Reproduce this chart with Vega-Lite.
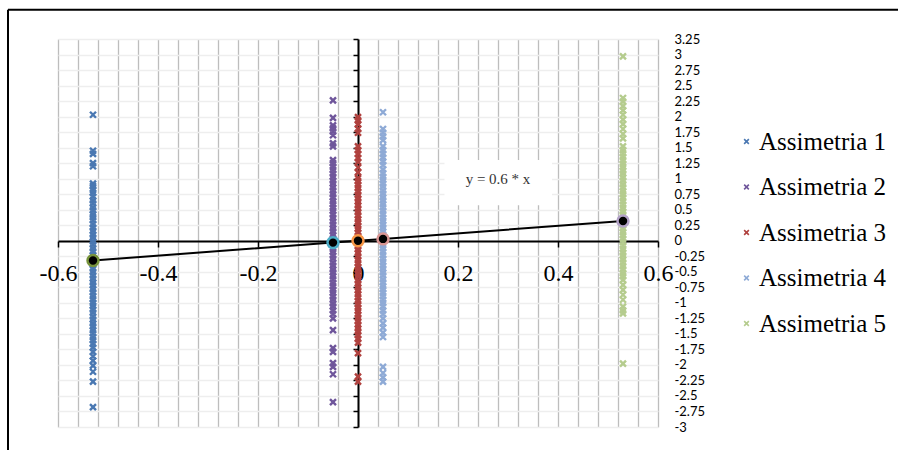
{
"$schema": "https://vega.github.io/schema/vega-lite/v6.json",
"autosize": {"type": "none"},
"width": 600,
"height": 388,
"padding": {"left": 58, "top": 39, "right": 240, "bottom": 23},
"background": "white",
"config": {"view": {"stroke": null}, "axis": {"labelOverlap": false, "labelFlush": false, "labelBound": false}},
"datasets": {
"pts": [
{"serie":"Assimetria 1","x":-0.53,"y":2.03},{"serie":"Assimetria 1","x":-0.53,"y":1.45},{"serie":"Assimetria 1","x":-0.53,"y":1.4},{"serie":"Assimetria 1","x":-0.53,"y":1.25},{"serie":"Assimetria 1","x":-0.53,"y":1.2},{"serie":"Assimetria 1","x":-0.53,"y":0.92},{"serie":"Assimetria 1","x":-0.53,"y":0.88},{"serie":"Assimetria 1","x":-0.53,"y":0.82},{"serie":"Assimetria 1","x":-0.53,"y":0.77},{"serie":"Assimetria 1","x":-0.53,"y":0.71},{"serie":"Assimetria 1","x":-0.53,"y":0.65},{"serie":"Assimetria 1","x":-0.53,"y":0.6},{"serie":"Assimetria 1","x":-0.53,"y":0.54},{"serie":"Assimetria 1","x":-0.53,"y":0.49},{"serie":"Assimetria 1","x":-0.53,"y":0.43},{"serie":"Assimetria 1","x":-0.53,"y":0.38},{"serie":"Assimetria 1","x":-0.53,"y":0.33},{"serie":"Assimetria 1","x":-0.53,"y":0.27},{"serie":"Assimetria 1","x":-0.53,"y":0.21},{"serie":"Assimetria 1","x":-0.53,"y":0.16},{"serie":"Assimetria 1","x":-0.53,"y":0.1},{"serie":"Assimetria 1","x":-0.53,"y":0.05},{"serie":"Assimetria 1","x":-0.53,"y":-0.01},{"serie":"Assimetria 1","x":-0.53,"y":-0.06},{"serie":"Assimetria 1","x":-0.53,"y":-0.12},{"serie":"Assimetria 1","x":-0.53,"y":-0.17},{"serie":"Assimetria 1","x":-0.53,"y":-0.23},{"serie":"Assimetria 1","x":-0.53,"y":-0.28},{"serie":"Assimetria 1","x":-0.53,"y":-0.34},{"serie":"Assimetria 1","x":-0.53,"y":-0.39},{"serie":"Assimetria 1","x":-0.53,"y":-0.45},{"serie":"Assimetria 1","x":-0.53,"y":-0.5},{"serie":"Assimetria 1","x":-0.53,"y":-0.56},{"serie":"Assimetria 1","x":-0.53,"y":-0.61},{"serie":"Assimetria 1","x":-0.53,"y":-0.67},{"serie":"Assimetria 1","x":-0.53,"y":-0.72},{"serie":"Assimetria 1","x":-0.53,"y":-0.78},{"serie":"Assimetria 1","x":-0.53,"y":-0.83},{"serie":"Assimetria 1","x":-0.53,"y":-0.89},{"serie":"Assimetria 1","x":-0.53,"y":-0.94},{"serie":"Assimetria 1","x":-0.53,"y":-1.0},{"serie":"Assimetria 1","x":-0.53,"y":-1.05},{"serie":"Assimetria 1","x":-0.53,"y":-1.11},{"serie":"Assimetria 1","x":-0.53,"y":-1.16},{"serie":"Assimetria 1","x":-0.53,"y":-1.22},{"serie":"Assimetria 1","x":-0.53,"y":-1.27},{"serie":"Assimetria 1","x":-0.53,"y":-1.33},{"serie":"Assimetria 1","x":-0.53,"y":-1.38},{"serie":"Assimetria 1","x":-0.53,"y":-1.44},{"serie":"Assimetria 1","x":-0.53,"y":-1.49},{"serie":"Assimetria 1","x":-0.53,"y":-1.55},{"serie":"Assimetria 1","x":-0.53,"y":-1.6},{"serie":"Assimetria 1","x":-0.53,"y":-1.66},{"serie":"Assimetria 1","x":-0.53,"y":-1.72},{"serie":"Assimetria 1","x":-0.53,"y":-1.79},{"serie":"Assimetria 1","x":-0.53,"y":-1.86},{"serie":"Assimetria 1","x":-0.53,"y":-1.93},{"serie":"Assimetria 1","x":-0.53,"y":-2.01},{"serie":"Assimetria 1","x":-0.53,"y":-2.11},{"serie":"Assimetria 1","x":-0.53,"y":-2.27},{"serie":"Assimetria 1","x":-0.53,"y":-2.68},
{"serie":"Assimetria 2","x":-0.05,"y":2.26},{"serie":"Assimetria 2","x":-0.05,"y":1.98},{"serie":"Assimetria 2","x":-0.05,"y":1.86},{"serie":"Assimetria 2","x":-0.05,"y":1.81},{"serie":"Assimetria 2","x":-0.05,"y":1.76},{"serie":"Assimetria 2","x":-0.05,"y":1.7},{"serie":"Assimetria 2","x":-0.05,"y":1.57},{"serie":"Assimetria 2","x":-0.05,"y":1.52},{"serie":"Assimetria 2","x":-0.05,"y":1.3},{"serie":"Assimetria 2","x":-0.05,"y":1.25},{"serie":"Assimetria 2","x":-0.05,"y":1.19},{"serie":"Assimetria 2","x":-0.05,"y":1.14},{"serie":"Assimetria 2","x":-0.05,"y":1.08},{"serie":"Assimetria 2","x":-0.05,"y":1.03},{"serie":"Assimetria 2","x":-0.05,"y":0.97},{"serie":"Assimetria 2","x":-0.05,"y":0.92},{"serie":"Assimetria 2","x":-0.05,"y":0.86},{"serie":"Assimetria 2","x":-0.05,"y":0.81},{"serie":"Assimetria 2","x":-0.05,"y":0.75},{"serie":"Assimetria 2","x":-0.05,"y":0.7},{"serie":"Assimetria 2","x":-0.05,"y":0.64},{"serie":"Assimetria 2","x":-0.05,"y":0.59},{"serie":"Assimetria 2","x":-0.05,"y":0.53},{"serie":"Assimetria 2","x":-0.05,"y":0.48},{"serie":"Assimetria 2","x":-0.05,"y":0.42},{"serie":"Assimetria 2","x":-0.05,"y":0.37},{"serie":"Assimetria 2","x":-0.05,"y":0.31},{"serie":"Assimetria 2","x":-0.05,"y":0.26},{"serie":"Assimetria 2","x":-0.05,"y":0.2},{"serie":"Assimetria 2","x":-0.05,"y":0.15},{"serie":"Assimetria 2","x":-0.05,"y":0.09},{"serie":"Assimetria 2","x":-0.05,"y":0.04},{"serie":"Assimetria 2","x":-0.05,"y":-0.02},{"serie":"Assimetria 2","x":-0.05,"y":-0.07},{"serie":"Assimetria 2","x":-0.05,"y":-0.13},{"serie":"Assimetria 2","x":-0.05,"y":-0.18},{"serie":"Assimetria 2","x":-0.05,"y":-0.24},{"serie":"Assimetria 2","x":-0.05,"y":-0.29},{"serie":"Assimetria 2","x":-0.05,"y":-0.35},{"serie":"Assimetria 2","x":-0.05,"y":-0.4},{"serie":"Assimetria 2","x":-0.05,"y":-0.46},{"serie":"Assimetria 2","x":-0.05,"y":-0.51},{"serie":"Assimetria 2","x":-0.05,"y":-0.57},{"serie":"Assimetria 2","x":-0.05,"y":-0.62},{"serie":"Assimetria 2","x":-0.05,"y":-0.68},{"serie":"Assimetria 2","x":-0.05,"y":-0.73},{"serie":"Assimetria 2","x":-0.05,"y":-0.79},{"serie":"Assimetria 2","x":-0.05,"y":-0.84},{"serie":"Assimetria 2","x":-0.05,"y":-0.9},{"serie":"Assimetria 2","x":-0.05,"y":-0.95},{"serie":"Assimetria 2","x":-0.05,"y":-1.01},{"serie":"Assimetria 2","x":-0.05,"y":-1.06},{"serie":"Assimetria 2","x":-0.05,"y":-1.12},{"serie":"Assimetria 2","x":-0.05,"y":-1.18},{"serie":"Assimetria 2","x":-0.05,"y":-1.25},{"serie":"Assimetria 2","x":-0.05,"y":-1.44},{"serie":"Assimetria 2","x":-0.05,"y":-1.73},{"serie":"Assimetria 2","x":-0.05,"y":-1.79},{"serie":"Assimetria 2","x":-0.05,"y":-1.97},{"serie":"Assimetria 2","x":-0.05,"y":-2.03},{"serie":"Assimetria 2","x":-0.05,"y":-2.15},{"serie":"Assimetria 2","x":-0.05,"y":-2.6},
{"serie":"Assimetria 3","x":0,"y":1.99},{"serie":"Assimetria 3","x":0,"y":1.94},{"serie":"Assimetria 3","x":0,"y":1.88},{"serie":"Assimetria 3","x":0,"y":1.8},{"serie":"Assimetria 3","x":0,"y":1.74},{"serie":"Assimetria 3","x":0,"y":1.52},{"serie":"Assimetria 3","x":0,"y":1.46},{"serie":"Assimetria 3","x":0,"y":1.4},{"serie":"Assimetria 3","x":0,"y":1.33},{"serie":"Assimetria 3","x":0,"y":1.27},{"serie":"Assimetria 3","x":0,"y":1.18},{"serie":"Assimetria 3","x":0,"y":1.1},{"serie":"Assimetria 3","x":0,"y":1.01},{"serie":"Assimetria 3","x":0,"y":0.96},{"serie":"Assimetria 3","x":0,"y":0.9},{"serie":"Assimetria 3","x":0,"y":0.85},{"serie":"Assimetria 3","x":0,"y":0.79},{"serie":"Assimetria 3","x":0,"y":0.74},{"serie":"Assimetria 3","x":0,"y":0.68},{"serie":"Assimetria 3","x":0,"y":0.63},{"serie":"Assimetria 3","x":0,"y":0.57},{"serie":"Assimetria 3","x":0,"y":0.52},{"serie":"Assimetria 3","x":0,"y":0.46},{"serie":"Assimetria 3","x":0,"y":0.41},{"serie":"Assimetria 3","x":0,"y":0.35},{"serie":"Assimetria 3","x":0,"y":0.3},{"serie":"Assimetria 3","x":0,"y":0.24},{"serie":"Assimetria 3","x":0,"y":0.19},{"serie":"Assimetria 3","x":0,"y":0.13},{"serie":"Assimetria 3","x":0,"y":0.08},{"serie":"Assimetria 3","x":0,"y":0.02},{"serie":"Assimetria 3","x":0,"y":-0.03},{"serie":"Assimetria 3","x":0,"y":-0.09},{"serie":"Assimetria 3","x":0,"y":-0.14},{"serie":"Assimetria 3","x":0,"y":-0.2},{"serie":"Assimetria 3","x":0,"y":-0.25},{"serie":"Assimetria 3","x":0,"y":-0.31},{"serie":"Assimetria 3","x":0,"y":-0.36},{"serie":"Assimetria 3","x":0,"y":-0.42},{"serie":"Assimetria 3","x":0,"y":-0.47},{"serie":"Assimetria 3","x":0,"y":-0.53},{"serie":"Assimetria 3","x":0,"y":-0.58},{"serie":"Assimetria 3","x":0,"y":-0.64},{"serie":"Assimetria 3","x":0,"y":-0.69},{"serie":"Assimetria 3","x":0,"y":-0.75},{"serie":"Assimetria 3","x":0,"y":-0.8},{"serie":"Assimetria 3","x":0,"y":-0.86},{"serie":"Assimetria 3","x":0,"y":-0.91},{"serie":"Assimetria 3","x":0,"y":-0.97},{"serie":"Assimetria 3","x":0,"y":-1.02},{"serie":"Assimetria 3","x":0,"y":-1.08},{"serie":"Assimetria 3","x":0,"y":-1.13},{"serie":"Assimetria 3","x":0,"y":-1.19},{"serie":"Assimetria 3","x":0,"y":-1.24},{"serie":"Assimetria 3","x":0,"y":-1.3},{"serie":"Assimetria 3","x":0,"y":-1.35},{"serie":"Assimetria 3","x":0,"y":-1.41},{"serie":"Assimetria 3","x":0,"y":-1.46},{"serie":"Assimetria 3","x":0,"y":-1.52},{"serie":"Assimetria 3","x":0,"y":-1.58},{"serie":"Assimetria 3","x":0,"y":-1.64},{"serie":"Assimetria 3","x":0,"y":-1.81},{"serie":"Assimetria 3","x":0,"y":-2.19},{"serie":"Assimetria 3","x":0,"y":-2.27},
{"serie":"Assimetria 4","x":0.05,"y":2.07},{"serie":"Assimetria 4","x":0.05,"y":1.8},{"serie":"Assimetria 4","x":0.05,"y":1.74},{"serie":"Assimetria 4","x":0.05,"y":1.68},{"serie":"Assimetria 4","x":0.05,"y":1.62},{"serie":"Assimetria 4","x":0.05,"y":1.52},{"serie":"Assimetria 4","x":0.05,"y":1.46},{"serie":"Assimetria 4","x":0.05,"y":1.4},{"serie":"Assimetria 4","x":0.05,"y":1.34},{"serie":"Assimetria 4","x":0.05,"y":1.28},{"serie":"Assimetria 4","x":0.05,"y":1.22},{"serie":"Assimetria 4","x":0.05,"y":1.15},{"serie":"Assimetria 4","x":0.05,"y":1.09},{"serie":"Assimetria 4","x":0.05,"y":1.03},{"serie":"Assimetria 4","x":0.05,"y":0.98},{"serie":"Assimetria 4","x":0.05,"y":0.92},{"serie":"Assimetria 4","x":0.05,"y":0.87},{"serie":"Assimetria 4","x":0.05,"y":0.81},{"serie":"Assimetria 4","x":0.05,"y":0.76},{"serie":"Assimetria 4","x":0.05,"y":0.7},{"serie":"Assimetria 4","x":0.05,"y":0.65},{"serie":"Assimetria 4","x":0.05,"y":0.59},{"serie":"Assimetria 4","x":0.05,"y":0.54},{"serie":"Assimetria 4","x":0.05,"y":0.48},{"serie":"Assimetria 4","x":0.05,"y":0.43},{"serie":"Assimetria 4","x":0.05,"y":0.37},{"serie":"Assimetria 4","x":0.05,"y":0.32},{"serie":"Assimetria 4","x":0.05,"y":0.26},{"serie":"Assimetria 4","x":0.05,"y":0.21},{"serie":"Assimetria 4","x":0.05,"y":0.15},{"serie":"Assimetria 4","x":0.05,"y":0.1},{"serie":"Assimetria 4","x":0.05,"y":0.04},{"serie":"Assimetria 4","x":0.05,"y":-0.01},{"serie":"Assimetria 4","x":0.05,"y":-0.07},{"serie":"Assimetria 4","x":0.05,"y":-0.12},{"serie":"Assimetria 4","x":0.05,"y":-0.18},{"serie":"Assimetria 4","x":0.05,"y":-0.23},{"serie":"Assimetria 4","x":0.05,"y":-0.29},{"serie":"Assimetria 4","x":0.05,"y":-0.34},{"serie":"Assimetria 4","x":0.05,"y":-0.4},{"serie":"Assimetria 4","x":0.05,"y":-0.45},{"serie":"Assimetria 4","x":0.05,"y":-0.51},{"serie":"Assimetria 4","x":0.05,"y":-0.56},{"serie":"Assimetria 4","x":0.05,"y":-0.62},{"serie":"Assimetria 4","x":0.05,"y":-0.67},{"serie":"Assimetria 4","x":0.05,"y":-0.73},{"serie":"Assimetria 4","x":0.05,"y":-0.78},{"serie":"Assimetria 4","x":0.05,"y":-0.84},{"serie":"Assimetria 4","x":0.05,"y":-0.89},{"serie":"Assimetria 4","x":0.05,"y":-0.95},{"serie":"Assimetria 4","x":0.05,"y":-1.0},{"serie":"Assimetria 4","x":0.05,"y":-1.06},{"serie":"Assimetria 4","x":0.05,"y":-1.12},{"serie":"Assimetria 4","x":0.05,"y":-1.18},{"serie":"Assimetria 4","x":0.05,"y":-1.25},{"serie":"Assimetria 4","x":0.05,"y":-1.33},{"serie":"Assimetria 4","x":0.05,"y":-1.4},{"serie":"Assimetria 4","x":0.05,"y":-1.48},{"serie":"Assimetria 4","x":0.05,"y":-1.55},{"serie":"Assimetria 4","x":0.05,"y":-2.03},{"serie":"Assimetria 4","x":0.05,"y":-2.13},{"serie":"Assimetria 4","x":0.05,"y":-2.2},{"serie":"Assimetria 4","x":0.05,"y":-2.27},
{"serie":"Assimetria 5","x":0.53,"y":2.97},{"serie":"Assimetria 5","x":0.53,"y":2.3},{"serie":"Assimetria 5","x":0.53,"y":2.24},{"serie":"Assimetria 5","x":0.53,"y":2.17},{"serie":"Assimetria 5","x":0.53,"y":2.1},{"serie":"Assimetria 5","x":0.53,"y":2.03},{"serie":"Assimetria 5","x":0.53,"y":1.95},{"serie":"Assimetria 5","x":0.53,"y":1.88},{"serie":"Assimetria 5","x":0.53,"y":1.8},{"serie":"Assimetria 5","x":0.53,"y":1.72},{"serie":"Assimetria 5","x":0.53,"y":1.65},{"serie":"Assimetria 5","x":0.53,"y":1.52},{"serie":"Assimetria 5","x":0.53,"y":1.46},{"serie":"Assimetria 5","x":0.53,"y":1.41},{"serie":"Assimetria 5","x":0.53,"y":1.35},{"serie":"Assimetria 5","x":0.53,"y":1.3},{"serie":"Assimetria 5","x":0.53,"y":1.24},{"serie":"Assimetria 5","x":0.53,"y":1.19},{"serie":"Assimetria 5","x":0.53,"y":1.13},{"serie":"Assimetria 5","x":0.53,"y":1.08},{"serie":"Assimetria 5","x":0.53,"y":1.02},{"serie":"Assimetria 5","x":0.53,"y":0.97},{"serie":"Assimetria 5","x":0.53,"y":0.91},{"serie":"Assimetria 5","x":0.53,"y":0.86},{"serie":"Assimetria 5","x":0.53,"y":0.8},{"serie":"Assimetria 5","x":0.53,"y":0.75},{"serie":"Assimetria 5","x":0.53,"y":0.69},{"serie":"Assimetria 5","x":0.53,"y":0.64},{"serie":"Assimetria 5","x":0.53,"y":0.58},{"serie":"Assimetria 5","x":0.53,"y":0.53},{"serie":"Assimetria 5","x":0.53,"y":0.47},{"serie":"Assimetria 5","x":0.53,"y":0.42},{"serie":"Assimetria 5","x":0.53,"y":0.36},{"serie":"Assimetria 5","x":0.53,"y":0.31},{"serie":"Assimetria 5","x":0.53,"y":0.25},{"serie":"Assimetria 5","x":0.53,"y":0.2},{"serie":"Assimetria 5","x":0.53,"y":0.14},{"serie":"Assimetria 5","x":0.53,"y":0.09},{"serie":"Assimetria 5","x":0.53,"y":0.03},{"serie":"Assimetria 5","x":0.53,"y":-0.02},{"serie":"Assimetria 5","x":0.53,"y":-0.08},{"serie":"Assimetria 5","x":0.53,"y":-0.13},{"serie":"Assimetria 5","x":0.53,"y":-0.19},{"serie":"Assimetria 5","x":0.53,"y":-0.24},{"serie":"Assimetria 5","x":0.53,"y":-0.3},{"serie":"Assimetria 5","x":0.53,"y":-0.35},{"serie":"Assimetria 5","x":0.53,"y":-0.41},{"serie":"Assimetria 5","x":0.53,"y":-0.46},{"serie":"Assimetria 5","x":0.53,"y":-0.52},{"serie":"Assimetria 5","x":0.53,"y":-0.57},{"serie":"Assimetria 5","x":0.53,"y":-0.63},{"serie":"Assimetria 5","x":0.53,"y":-0.71},{"serie":"Assimetria 5","x":0.53,"y":-0.79},{"serie":"Assimetria 5","x":0.53,"y":-0.87},{"serie":"Assimetria 5","x":0.53,"y":-0.95},{"serie":"Assimetria 5","x":0.53,"y":-1.06},{"serie":"Assimetria 5","x":0.53,"y":-1.12},{"serie":"Assimetria 5","x":0.53,"y":-1.17},{"serie":"Assimetria 5","x":0.53,"y":-1.98}
],
"means": [
{"k":"M1","x":-0.53,"y":-0.318},{"k":"M2","x":-0.05,"y":-0.03},{"k":"M3","x":0,"y":0},{"k":"M4","x":0.05,"y":0.03},{"k":"M5","x":0.53,"y":0.318}
],
"box": [{"x":0.173,"x2":0.388,"y":0.57,"y2":1.3,"label":"y = 0.6 * x","lx":0.28,"ly":0.99}],
"frame": [{"x":-0.7,"x2":-0.7,"y":3.72,"y2":-4.5},{"x":-0.7,"x2":1.3,"y":3.72,"y2":3.72}]
},
"resolve": {"axis": {"x": "independent", "y": "independent"}},
"layer": [
{
"data": {"name": "pts"},
"mark": {"type": "point", "shape": "M-1,-1L1,1M-1,1L1,-1", "filled": false, "size": 36, "strokeWidth": 2.4, "opacity": 1},
"encoding": {
"x": {"field": "x", "type": "quantitative", "scale": {"domain": [-0.6, 0.6], "nice": false, "zero": false},
"axis": {"orient": "top", "title": null, "labels": false, "ticks": false, "domain": false, "grid": true, "gridColor": "#bdbdbd", "gridWidth": 1.3,
"values": [-0.6,-0.56,-0.52,-0.48,-0.44,-0.4,-0.36,-0.32,-0.28,-0.24,-0.2,-0.16,-0.12,-0.08,-0.04,0,0.04,0.08,0.12,0.16,0.2,0.24,0.28,0.32,0.36,0.4,0.44,0.48,0.52,0.56,0.6]}},
"y": {"field": "y", "type": "quantitative", "scale": {"domain": [-3, 3.25], "nice": false, "zero": false},
"axis": {"orient": "right", "title": null, "ticks": false, "domain": false, "grid": true, "gridColor": "#eeeeee", "gridWidth": 1.3,
"labelPadding": 16, "labelFont": "Lato", "labelFontSize": 13, "labelColor": "#000", "labelAlign": "left", "labelBaseline": "middle",
"labelExpr": "datum.value < 0 ? '-' + format(-datum.value, '') : format(datum.value, '')",
"values": [-3,-2.75,-2.5,-2.25,-2,-1.75,-1.5,-1.25,-1,-0.75,-0.5,-0.25,0,0.25,0.5,0.75,1,1.25,1.5,1.75,2,2.25,2.5,2.75,3,3.25]}},
"color": {"field": "serie", "type": "nominal",
"scale": {"domain": ["Assimetria 1","Assimetria 2","Assimetria 3","Assimetria 4","Assimetria 5"], "range": ["#4a78b2","#6f569b","#b0413e","#8eaad6","#b5cc8e"]},
"legend": {"orient": "none", "legendX": 676, "legendY": 90, "title": null, "labelFont": "Liberation Serif", "labelFontSize": 25, "labelColor": "#000",
"symbolType": "M-1,-1L1,1M-1,1L1,-1", "symbolSize": 22, "symbolStrokeWidth": 1.6, "rowPadding": 19.5, "labelOffset": 0, "labelLimit": 300}}
}
},
{
"data": {"name": "means"},
"mark": {"type": "line", "color": "#000", "strokeWidth": 2},
"encoding": {
"x": {"field": "x", "type": "quantitative",
"axis": {"orient": "bottom", "offset": -186, "title": null, "grid": false, "domain": true, "domainColor": "#000", "domainWidth": 2,
"ticks": true, "tickColor": "#000", "tickWidth": 1.5, "tickSize": 6, "labelPadding": 14,
"labelFont": "Liberation Serif", "labelFontSize": 24, "labelColor": "#000",
"labelExpr": "datum.value < 0 ? '-' + format(-datum.value, '') : format(datum.value, '')",
"values": [-0.6,-0.4,-0.2,0,0.2,0.4,0.6]}},
"y": {"field": "y", "type": "quantitative",
"axis": {"orient": "left", "offset": -300, "title": null, "grid": false, "labels": false, "domain": true, "domainColor": "#000", "domainWidth": 2,
"ticks": true, "tickColor": "#000", "tickWidth": 1.5, "tickSize": 5,
"values": [-3,-2.75,-2.5,-2.25,-2,-1.75,-1.5,-1.25,-1,-0.75,-0.5,-0.25,0,0.25,0.5,0.75,1,1.25,1.5,1.75,2,2.25,2.5,2.75,3,3.25]}}
}
},
{
"data": {"name": "means"},
"mark": {"type": "point", "shape": "circle", "filled": true, "fill": "#000", "size": 120, "strokeWidth": 2.5, "opacity": 1},
"encoding": {
"x": {"field": "x", "type": "quantitative", "axis": null},
"y": {"field": "y", "type": "quantitative", "axis": null},
"stroke": {"field": "k", "type": "nominal", "legend": null,
"scale": {"domain": ["M1","M2","M3","M4","M5"], "range": ["#77933c","#4bacc6","#f79646","#d99694","#b3a2c7"]}}
}
},
{
"data": {"name": "box"},
"mark": {"type": "rect", "fill": "#ffffff"},
"encoding": {
"x": {"field": "x", "type": "quantitative", "axis": null},
"x2": {"field": "x2"},
"y": {"field": "y", "type": "quantitative", "axis": null},
"y2": {"field": "y2"}
}
},
{
"data": {"name": "box"},
"mark": {"type": "text", "font": "Liberation Serif", "fontSize": 15, "color": "#333333", "align": "center", "baseline": "middle"},
"encoding": {
"x": {"field": "lx", "type": "quantitative", "axis": null},
"y": {"field": "ly", "type": "quantitative", "axis": null},
"text": {"field": "label"}
}
},
{
"data": {"name": "frame"},
"mark": {"type": "rule", "color": "#000", "strokeWidth": 2, "clip": false},
"encoding": {
"x": {"field": "x", "type": "quantitative", "axis": null},
"x2": {"field": "x2"},
"y": {"field": "y", "type": "quantitative", "axis": null},
"y2": {"field": "y2"}
}
}
]
}
